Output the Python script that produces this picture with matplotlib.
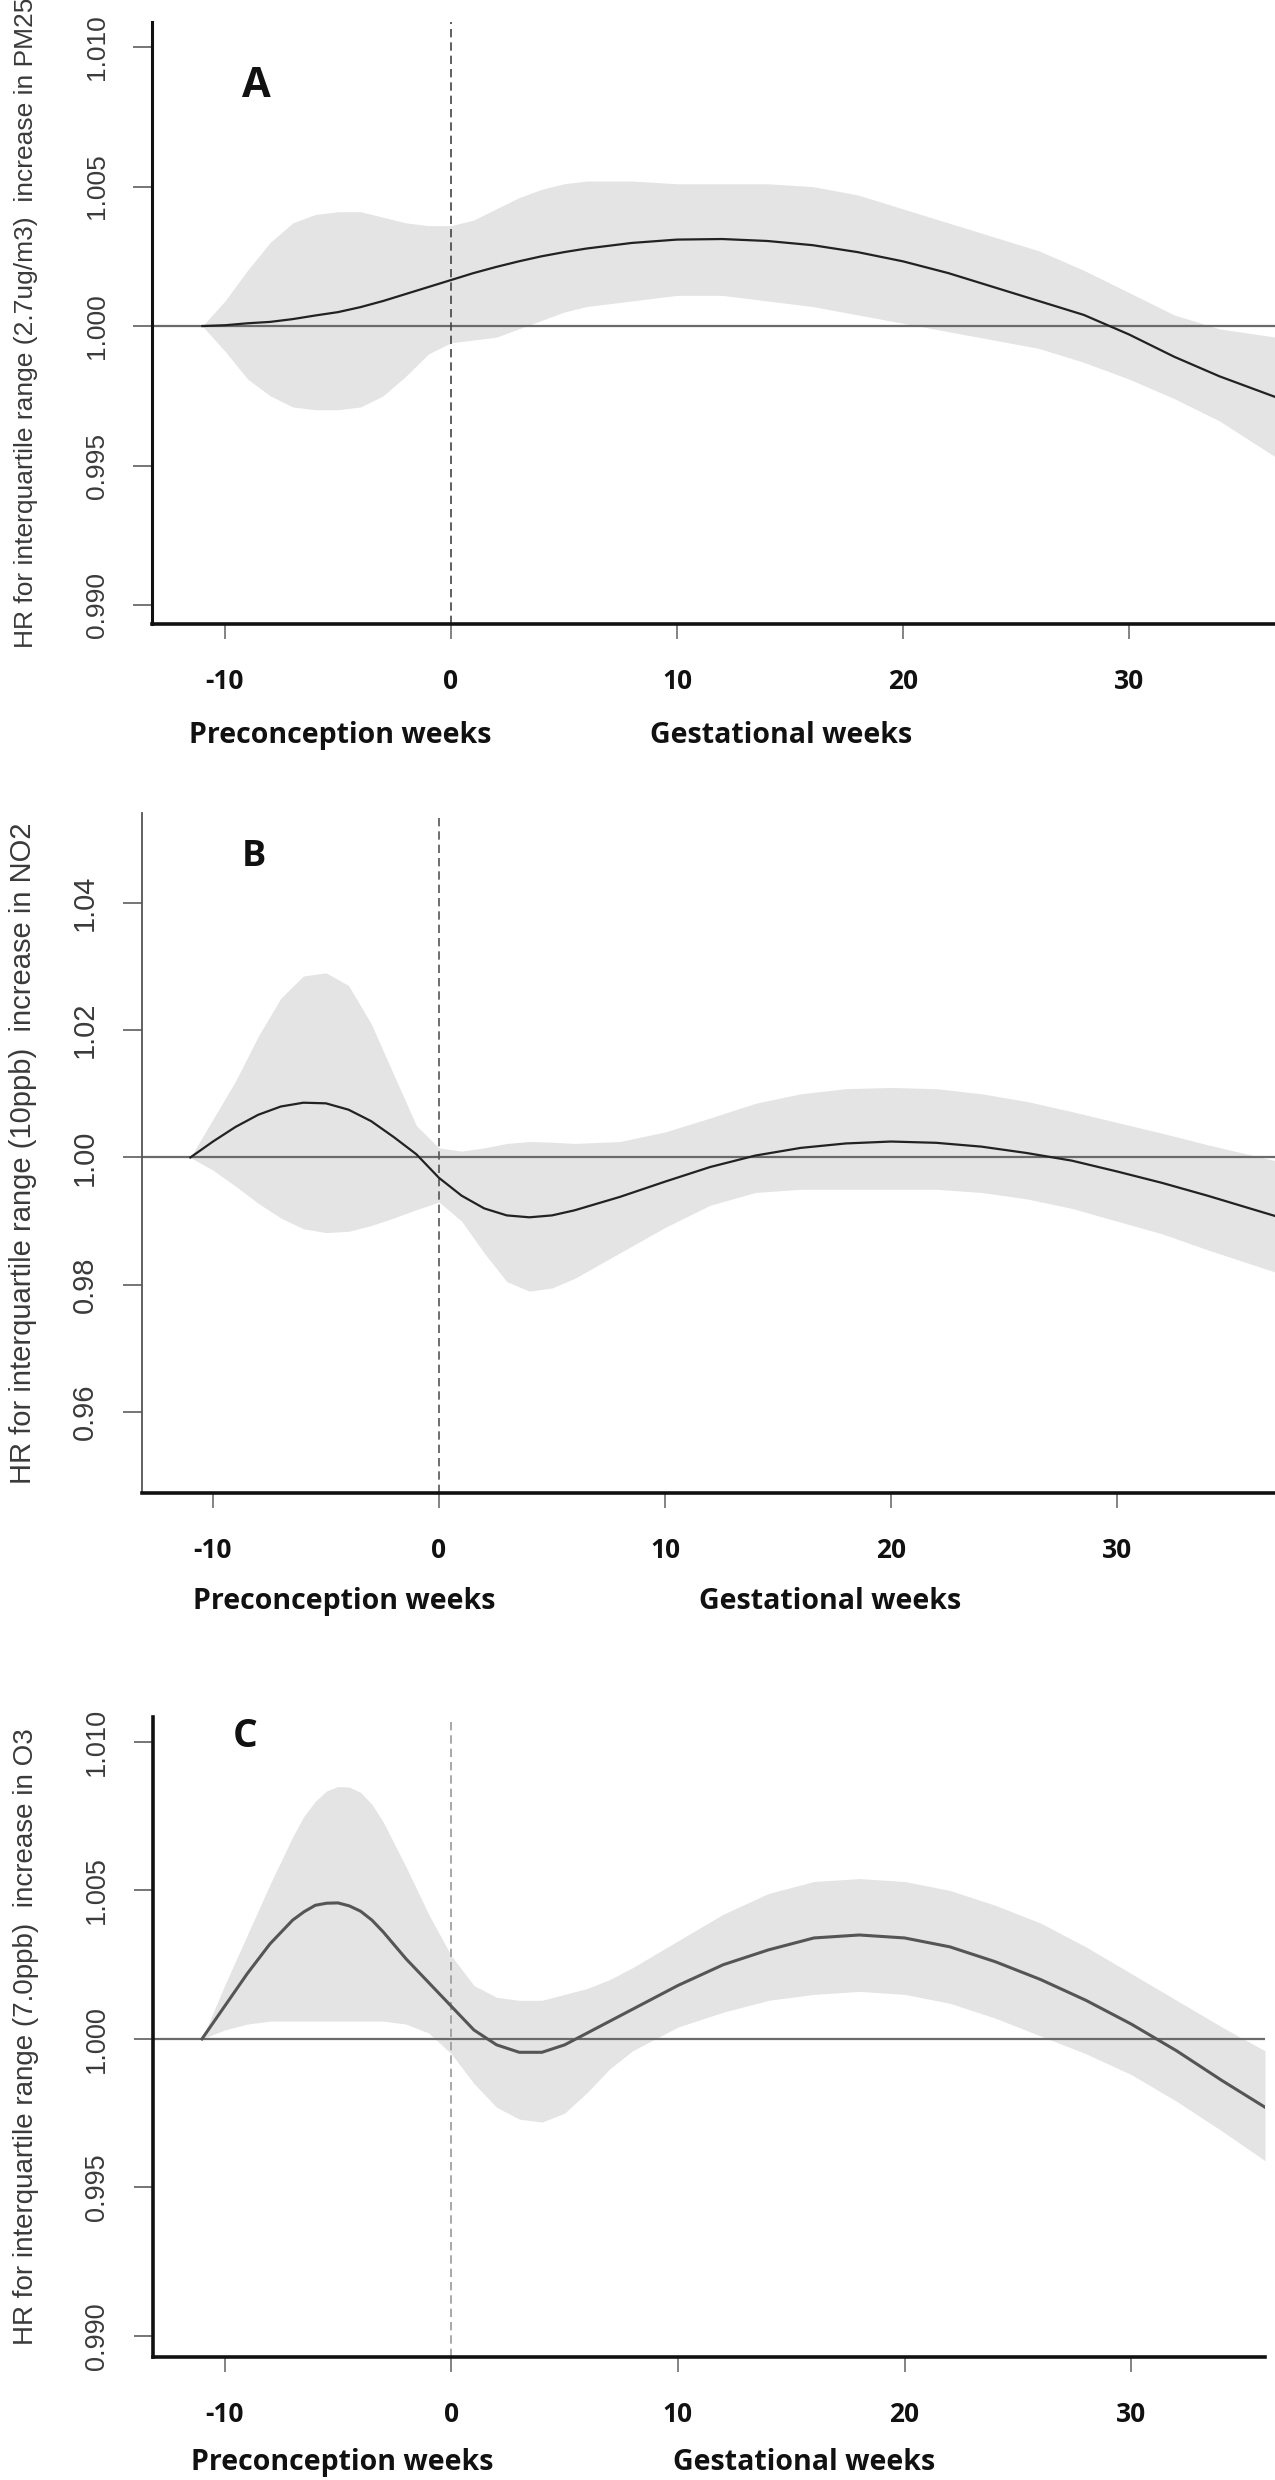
import numpy as np
import matplotlib.pyplot as plt
from matplotlib import transforms

# Panel A: PM2.5
weeks_a = [-11, -10, -9, -8, -7, -6, -5, -4, -3, -2, -1, 0, 1, 2, 3, 4, 5, 6, 8, 10,
           12, 14, 16, 18, 20, 22, 24, 26, 28, 30, 32, 34, 36.5]
hr_a = [1.0000, 1.00003, 1.0001, 1.00015, 1.00025, 1.00038, 1.0005, 1.00068, 1.0009, 1.00115,
        1.0014, 1.00165, 1.0019, 1.00212, 1.00232, 1.0025, 1.00265, 1.00278, 1.00298, 1.0031,
        1.00312, 1.00305, 1.0029, 1.00265, 1.00232, 1.0019, 1.0014, 1.0009, 1.0004, 0.9997,
        0.9989, 0.9982, 0.99745]
hi_a = [1.0000, 1.0009, 1.0020, 1.0030, 1.0037, 1.0040, 1.0041, 1.0041, 1.0039, 1.0037,
        1.0036, 1.0036, 1.0038, 1.0042, 1.0046, 1.0049, 1.0051, 1.0052, 1.0052, 1.0051,
        1.0051, 1.0051, 1.0050, 1.0047, 1.0042, 1.0037, 1.0032, 1.0027, 1.0020, 1.0012,
        1.0004, 0.9999, 0.9996]
lo_a = [1.0000, 0.9991, 0.9981, 0.9975, 0.9971, 0.9970, 0.9970, 0.9971, 0.9975, 0.9982,
        0.9990, 0.9994, 0.9995, 0.9996, 0.9999, 1.0002, 1.0005, 1.0007, 1.0009, 1.0011,
        1.0011, 1.0009, 1.0007, 1.0004, 1.0001, 0.9998, 0.9995, 0.9992, 0.9987, 0.9981,
        0.9974, 0.9966, 0.9953]

# Panel B: NO2
weeks_b = [-11, -10, -9, -8, -7, -6, -5, -4, -3, -2, -1, 0, 1, 2, 3, 4, 5, 6, 8, 10,
           12, 14, 16, 18, 20, 22, 24, 26, 28, 30, 32, 34, 37]
hr_b = [1.000, 1.0025, 1.0048, 1.0067, 1.0080, 1.0086, 1.0085, 1.0075, 1.0057, 1.0032,
        1.0005, 0.9968, 0.9940, 0.9920, 0.9909, 0.9906, 0.9909, 0.9917, 0.9938, 0.9962,
        0.9985, 1.0003, 1.0015, 1.0022, 1.0025, 1.0023, 1.0017, 1.0007, 0.9995, 0.9978,
        0.9960, 0.9940, 0.9908]
hi_b = [1.000, 1.006, 1.012, 1.019, 1.025, 1.0285, 1.029, 1.027, 1.021, 1.013,
        1.005, 1.0015, 1.0010, 1.0015, 1.0022, 1.0025, 1.0024, 1.0022, 1.0025, 1.0040,
        1.0062, 1.0085, 1.0100, 1.0108, 1.0110, 1.0108, 1.0100, 1.0088, 1.0072, 1.0055,
        1.0038, 1.0020, 0.9995]
lo_b = [1.000, 0.998, 0.9955, 0.9928, 0.9905, 0.9888, 0.9882, 0.9884, 0.9893, 0.9905,
        0.9918, 0.9930, 0.9900, 0.9850, 0.9805, 0.9790, 0.9795, 0.9810, 0.9850, 0.9890,
        0.9925, 0.9945, 0.9950, 0.9950, 0.9950, 0.9950, 0.9945, 0.9935, 0.9920, 0.9900,
        0.9880, 0.9855, 0.9820]

# Panel C: O3
weeks_c = [-11, -10, -9, -8, -7, -6.5, -6, -5.5, -5, -4.5, -4, -3.5, -3, -2, -1, 0, 1, 2, 3,
           4, 5, 6, 7, 8, 10, 12, 14, 16, 18, 20, 22, 24, 26, 28, 30, 32, 34, 35.9]
hr_c = [1.0000, 1.0011, 1.0022, 1.0032, 1.0040, 1.00428, 1.0045, 1.00457, 1.00458, 1.00448,
        1.0043, 1.0040, 1.0036, 1.0027, 1.0019, 1.0011, 1.0003, 0.9998, 0.99955,
        0.99955, 0.9998, 1.0002, 1.0006, 1.0010, 1.0018, 1.0025, 1.0030, 1.0034, 1.0035,
        1.0034, 1.0031, 1.0026, 1.0020, 1.0013, 1.0005, 0.9996, 0.9986, 0.9977]
hi_c = [1.0000, 1.0018, 1.0035, 1.0052, 1.0068, 1.0075, 1.0080, 1.00835, 1.0085, 1.00848,
        1.0083, 1.0079, 1.0073, 1.0058, 1.0042, 1.0028, 1.0018, 1.0014, 1.0013,
        1.0013, 1.0015, 1.0017, 1.0020, 1.0024, 1.0033, 1.0042, 1.0049, 1.0053, 1.0054,
        1.0053, 1.0050, 1.0045, 1.0039, 1.0031, 1.0022, 1.0013, 1.0004, 0.9996]
lo_c = [1.0000, 1.0003, 1.0005, 1.0006, 1.0006, 1.0006, 1.0006, 1.0006, 1.0006, 1.0006,
        1.0006, 1.0006, 1.0006, 1.0005, 1.0002, 0.9995, 0.9985, 0.9977, 0.9973,
        0.9972, 0.9975, 0.9982, 0.9990, 0.9996, 1.0004, 1.0009, 1.0013, 1.0015, 1.0016,
        1.0015, 1.0012, 1.0007, 1.0001, 0.9995, 0.9988, 0.9979, 0.9969, 0.9959]

xticks = [-10, 0, 10, 20, 30]
xticklabels = ['-10', '0', '10', '20', '30']
yticks_ac = [0.990, 0.995, 1.000, 1.005, 1.010]
yticklabels_ac = ['0.990', '0.995', '1.000', '1.005', '1.010']
yticks_b = [0.96, 0.98, 1.00, 1.02, 1.04]
yticklabels_b = ['0.96', '0.98', '1.00', '1.02', '1.04']

W, H = 1275, 2480
fig = plt.figure(figsize=(W / 100, H / 100), dpi=100)
fig.patch.set_facecolor('white')

# left, top, right, bottom of each plot region in pixels
boxes = {'A': (152, 22, 1275, 624), 'B': (142, 813, 1275, 1493), 'C': (153, 1717, 1265, 2357)}


def make_ax(box):
    l, t, r, b = box
    return fig.add_axes([l / W, 1 - b / H, (r - l) / W, (b - t) / H])


def panel(ax, weeks, hr, lo, hi, xlim, ylim, yticks, yticklabels, tick_fs,
          line_col, line_w, dash_col, left_col, left_w):
    ax.fill_between(weeks, lo, hi, color='#e4e4e4', lw=0, zorder=1)
    ax.axhline(1.0, color='#6a6a6a', lw=1.6, zorder=2)
    ax.axvline(0, color=dash_col, lw=1.2, ls=(0, (5, 3)), zorder=2)
    ax.plot(weeks, hr, color=line_col, lw=line_w, zorder=3)
    ax.set_xlim(*xlim)
    ax.set_ylim(*ylim)
    for s in ['top', 'right']:
        ax.spines[s].set_visible(False)
    ax.spines['left'].set_color(left_col)
    ax.spines['left'].set_linewidth(left_w)
    ax.spines['bottom'].set_color('#111111')
    ax.spines['bottom'].set_linewidth(2.6)
    ax.set_yticks(yticks)
    ax.set_yticklabels(yticklabels, rotation=90, va='center', fontsize=tick_fs,
                       color='#3a3a3a', family='Liberation Sans')
    ax.tick_params(axis='y', length=14, width=1.3, color='#6a6a6a', pad=17)
    ax.set_xticks(xticks)
    ax.set_xticklabels(xticklabels, fontsize=19, fontweight='bold',
                       family='Open Sans', color='#111111')
    ax.tick_params(axis='x', length=11, width=1.3, color='#7a7a7a', pad=21)


def week_labels(ax, x_pre, x_ges, off):
    tr = transforms.blended_transform_factory(ax.transData, ax.transAxes)
    for x, s in [(x_pre, 'Preconception weeks'), (x_ges, 'Gestational weeks')]:
        ax.annotate(s, xy=(x, 0), xycoords=tr, xytext=(0, -off), textcoords='offset points',
                    ha='left', va='center', fontsize=20.5, fontweight='bold',
                    family='Open Sans', color='#111111', annotation_clip=False)


ax_a = make_ax(boxes['A'])
panel(ax_a, weeks_a, hr_a, lo_a, hi_a, (-13.23, 36.46), (0.98932, 1.0109),
      yticks_ac, yticklabels_ac, 19, '#222222', 1.6, '#444444', '#111111', 2.2)
week_labels(ax_a, -11.6, 8.8, 80)
ax_a.text(-8.6, 1.00857, 'A', fontsize=30, fontweight='bold', family='Open Sans',
          ha='center', va='center', color='#111111')

ax_b = make_ax(boxes['B'])
panel(ax_b, weeks_b, hr_b, lo_b, hi_b, (-13.14, 36.99), (0.9473, 1.0541),
      yticks_b, yticklabels_b, 21, '#222222', 1.6, '#555555', '#555555', 1.3)
week_labels(ax_b, -10.9, 11.5, 78)
ax_b.text(-8.2, 1.0472, 'B', fontsize=26, fontweight='bold', family='Open Sans',
          ha='center', va='center', color='#111111')

ax_c = make_ax(boxes['C'])
panel(ax_c, weeks_c, hr_c, lo_c, hi_c, (-13.16, 35.9), (0.98929, 1.01084),
      yticks_ac, yticklabels_ac, 19.5, '#555555', 2.2, '#999999', '#111111', 2.6)
week_labels(ax_c, -11.5, 9.8, 76)
ax_c.text(-9.1, 1.0102, 'C', fontsize=28, fontweight='bold', family='Open Sans',
          ha='center', va='center', color='#111111')

# y axis titles
ylabs = [('HR for interquartile range (2.7ug/m3)  increase in PM25', 26, 323, 19),
         ('HR for interquartile range (10ppb)  increase in NO2', 23, 1153, 21),
         ('HR for interquartile range (7.0ppb)  increase in O3', 26, 2037, 20)]
for s, x, y, fs in ylabs:
    fig.text(x / W, 1 - y / H, s, rotation=90, ha='center', va='center',
             fontsize=fs, color='#3a3a3a', family='Liberation Sans')

fig.savefig('out.png', dpi=100, facecolor='white')
